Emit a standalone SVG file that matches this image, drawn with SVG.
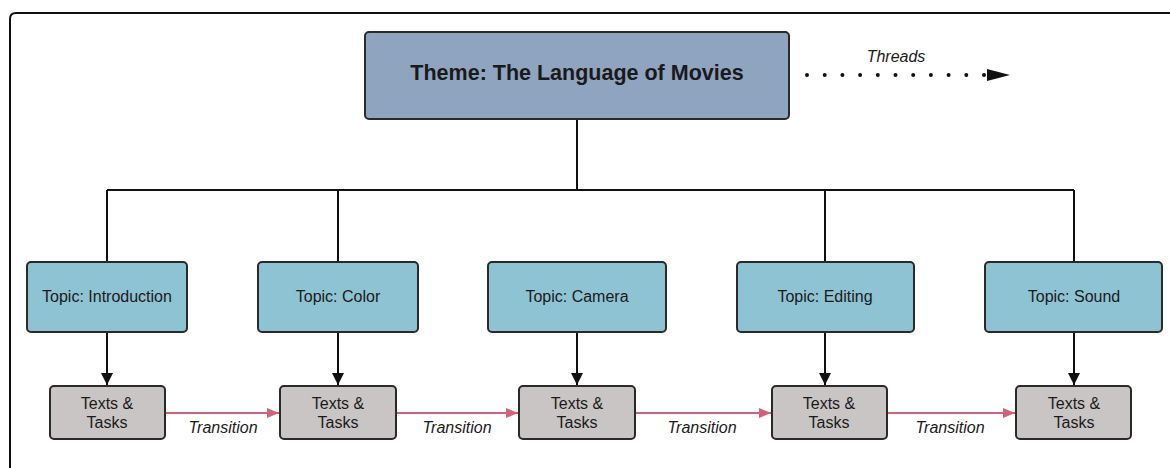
<svg xmlns="http://www.w3.org/2000/svg" width="1170" height="468" viewBox="0 0 1170 468">
<defs>
<style>
.t{font-family:"Liberation Sans",Arial,sans-serif;fill:#1a1a1a;text-anchor:middle}
.theme{fill:#8fa4bf;stroke:#2a2a2a;stroke-width:2}
.topic{fill:#8ec3d3;stroke:#2a2a2a;stroke-width:2}
.task{fill:#c9c5c5;stroke:#2a2a2a;stroke-width:2}
.k{stroke:#111;stroke-width:2;fill:none}
.r{stroke:#d4607a;stroke-width:2;fill:none}
.lbl{font-family:"Liberation Sans",Arial,sans-serif;font-style:italic;font-size:16px;fill:#1a1a1a;text-anchor:middle}
</style>
<marker id="ab" viewBox="0 0 10 10" refX="10" refY="5" markerWidth="12" markerHeight="14" orient="auto" markerUnits="userSpaceOnUse"><path d="M0,0 L10,5 L0,10 z" fill="#111"/></marker>
<marker id="ar" viewBox="0 0 10 10" refX="10" refY="5" markerWidth="12" markerHeight="10" orient="auto" markerUnits="userSpaceOnUse" preserveAspectRatio="none"><path d="M0,0 L10,5 L0,10 z" fill="#d4607a"/></marker>
</defs>
<rect width="1170" height="468" fill="#fff"/>
<path d="M10,480 L10,19 Q10,13 16,13 L1180,13" fill="none" stroke="#111" stroke-width="2"/>
<g id="connectors">
<path class="k" d="M577,119 V190 M107,190 H1074 M107,190 V262 M338,190 V262 M825,190 V262 M1074,190 V262"/>
<path class="k" d="M107,332 V385" marker-end="url(#ab)"/>
<path class="k" d="M338,332 V385" marker-end="url(#ab)"/>
<path class="k" d="M577,332 V385" marker-end="url(#ab)"/>
<path class="k" d="M825,332 V385" marker-end="url(#ab)"/>
<path class="k" d="M1074,332 V385" marker-end="url(#ab)"/>
<path class="r" d="M165,413 H279" marker-end="url(#ar)"/>
<path class="r" d="M396,413 H518" marker-end="url(#ar)"/>
<path class="r" d="M635,413 H771" marker-end="url(#ar)"/>
<path class="r" d="M887,413 H1015" marker-end="url(#ar)"/>
<path d="M807,75 H990" stroke="#111" stroke-width="4" stroke-linecap="round" stroke-dasharray="0 17.7" fill="none"/>
<polygon points="987,69 1010,75 987,81" fill="#111"/>
<text class="lbl" x="896" y="62" font-size="18">Threads</text>
<text class="lbl" x="223" y="433">Transition</text>
<text class="lbl" x="457" y="433">Transition</text>
<text class="lbl" x="702" y="433">Transition</text>
<text class="lbl" x="950" y="433">Transition</text>
</g>
<g id="theme"><rect class="theme" x="365" y="32" width="424" height="87" rx="4"/><text class="t" x="577" y="80" font-size="21.5" font-weight="bold">Theme: The Language of Movies</text></g>
<g id="topic-intro"><rect class="topic" x="27" y="262" width="160" height="70" rx="4"/><text class="t" x="107" y="302" font-size="16">Topic: Introduction</text></g>
<g id="topic-color"><rect class="topic" x="258" y="262" width="160" height="70" rx="4"/><text class="t" x="338" y="302" font-size="16">Topic: Color</text></g>
<g id="topic-camera"><rect class="topic" x="488" y="262" width="178" height="70" rx="4"/><text class="t" x="577" y="302" font-size="16">Topic: Camera</text></g>
<g id="topic-editing"><rect class="topic" x="737" y="262" width="177" height="70" rx="4"/><text class="t" x="825" y="302" font-size="16">Topic: Editing</text></g>
<g id="topic-sound"><rect class="topic" x="985" y="262" width="177" height="70" rx="4"/><text class="t" x="1074" y="302" font-size="16">Topic: Sound</text></g>
<g id="tasks-1"><rect class="task" x="50" y="386" width="115" height="53" rx="4"/><text class="t" x="107" y="409" font-size="16">Texts &amp;</text><text class="t" x="107" y="428" font-size="16">Tasks</text></g>
<g id="tasks-2"><rect class="task" x="280" y="386" width="116" height="53" rx="4"/><text class="t" x="338" y="409" font-size="16">Texts &amp;</text><text class="t" x="338" y="428" font-size="16">Tasks</text></g>
<g id="tasks-3"><rect class="task" x="519" y="386" width="116" height="53" rx="4"/><text class="t" x="577" y="409" font-size="16">Texts &amp;</text><text class="t" x="577" y="428" font-size="16">Tasks</text></g>
<g id="tasks-4"><rect class="task" x="772" y="386" width="115" height="53" rx="4"/><text class="t" x="829" y="409" font-size="16">Texts &amp;</text><text class="t" x="829" y="428" font-size="16">Tasks</text></g>
<g id="tasks-5"><rect class="task" x="1016" y="386" width="115" height="53" rx="4"/><text class="t" x="1074" y="409" font-size="16">Texts &amp;</text><text class="t" x="1074" y="428" font-size="16">Tasks</text></g>
</svg>
